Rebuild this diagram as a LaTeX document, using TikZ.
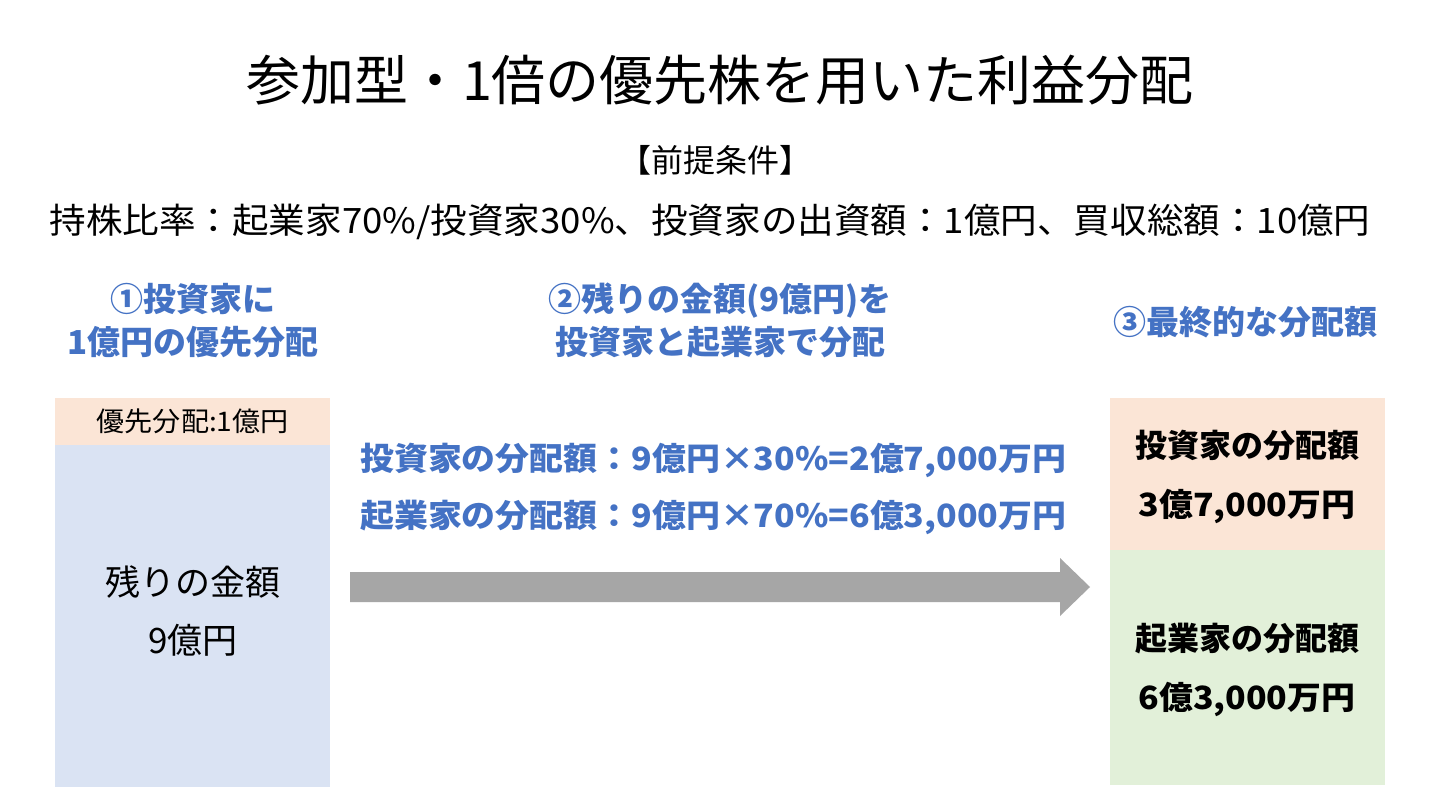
\documentclass[tikz,border=0pt]{standalone}
\usepackage{fontspec}
\usepackage{graphicx}
\setmainfont{Noto Sans CJK JP}
\definecolor{hdblue}{HTML}{4472C4}
\definecolor{peach}{HTML}{FBE5D6}
\definecolor{lblue}{HTML}{DAE3F3}
\definecolor{lgreen}{HTML}{E2F0D9}
\definecolor{arrgray}{HTML}{A6A6A6}
\begin{document}
\begin{tikzpicture}[x=1pt,y=-1pt,
  heading/.style={font=\fontsize{33}{43}\selectfont\bfseries, text=hdblue, align=center, inner sep=0pt},
  midtext/.style={font=\fontsize{32}{36}\selectfont\bfseries, text=hdblue, anchor=west, inner sep=0pt},
  boxtext/.style={font=\fontsize{32}{59}\selectfont\bfseries, text=black, inner sep=0pt, align=center},
  plain/.style={inner sep=0pt}]
\useasboundingbox (0,0) rectangle (1440,810);
\fill[white] (0,0) rectangle (1440,810);
% title
\node[plain, font=\fontsize{54}{60}\selectfont] (title) at (720,80) {参加型・1倍の優先株を用いた利益分配};
\node[plain, font=\fontsize{32}{34}\selectfont] (premise) at (715,160) {【前提条件】};
\node[plain, font=\fontsize{35}{36}\selectfont] (cond) at (710,222) {\scalebox{1.045}[1]{持株比率：起業家70\%/投資家30\%、投資家の出資額：1億円、買収総額：10億円}};
% headings
\node[heading] (h1) at (193,321) {①投資家に\\1億円の優先分配};
\node[heading] (h2) at (720,321) {②残りの金額(9億円)を\\投資家と起業家で分配};
\node[heading] (h3) at (1245,322) {③最終的な分配額};
% left column
\node[fill=peach, minimum width=275pt, minimum height=47pt, inner sep=0pt, anchor=north west, font=\fontsize{27}{30}\selectfont] (pref) at (55,398) {\scalebox{1.04}[1]{優先分配:1億円}};
\node[fill=lblue, minimum width=275pt, minimum height=342pt, inner sep=0pt, anchor=north west] (rest) at (55,445) {};
\node[plain, font=\fontsize{35}{58}\selectfont, align=center] (resttxt) at (193,611) {残りの金額\\9億円};
% right column
\node[fill=peach, minimum width=275pt, minimum height=152pt, inner sep=0pt, anchor=north west] (inv) at (1110,398) {};
\node[boxtext] (invtxt) at (1247,477) {投資家の分配額\\\scalebox{1.06}[1]{3億7,000万円}};
\node[fill=lgreen, minimum width=275pt, minimum height=235pt, inner sep=0pt, anchor=north west] (ent) at (1110,550) {};
\node[boxtext] (enttxt) at (1247,670) {起業家の分配額\\\scalebox{1.06}[1]{6億3,000万円}};
% middle text
\node[midtext] (m1) at (360,460) {\scalebox{1.06}[1]{投資家の分配額：9億円×30\%=2億7,000万円}};
\node[midtext] (m2) at (360,517) {\scalebox{1.06}[1]{起業家の分配額：9億円×70\%=6億3,000万円}};
% arrow
\coordinate (a1) at (1090,587);
\fill[arrgray] (350,572) -- (1060,572) -- (1060,558) -- (a1) -- (1060,616) -- (1060,602) -- (350,602) -- cycle;
\end{tikzpicture}
\end{document}
